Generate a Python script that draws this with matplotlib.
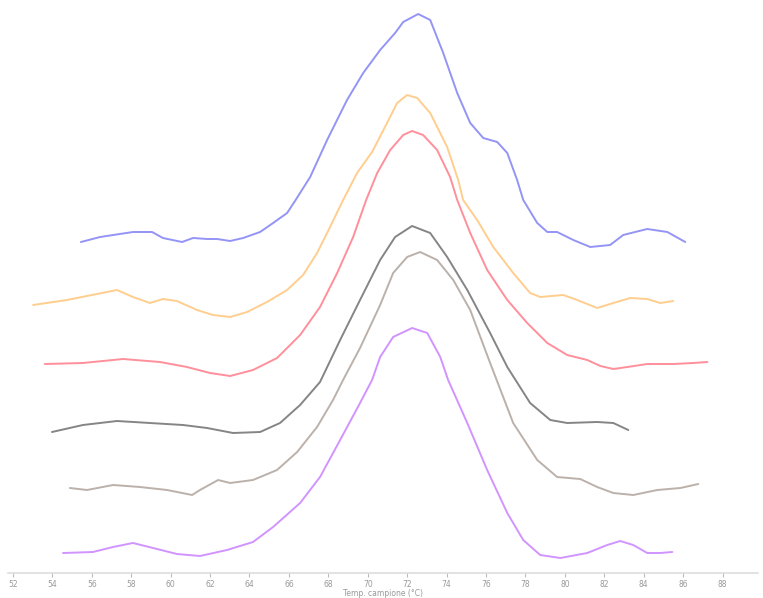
import matplotlib
matplotlib.use("Agg")
import matplotlib.pyplot as plt

# Temperatura (°C) e intensità (u.a., curve già traslate in verticale)
blue_t = [55.45, 56.42, 58.09, 59.06, 59.61, 60.58, 61.14, 61.85, 62.36, 63.02, 63.68,
          64.54, 65.20, 65.91, 66.31, 67.08, 67.94, 68.95, 69.77, 70.63, 71.39, 71.80,
          72.56, 73.17, 73.83, 74.54, 75.20, 75.86, 76.57, 77.08, 77.58, 77.89, 78.60,
          79.11, 79.61, 80.43, 81.29, 82.30, 82.96, 84.18, 85.20, 86.11]
blue_y = [3.31, 3.36, 3.41, 3.41, 3.35, 3.31, 3.35, 3.34, 3.34, 3.32, 3.35,
          3.41, 3.50, 3.60, 3.72, 3.96, 4.33, 4.73, 5.00, 5.23, 5.40, 5.51,
          5.59, 5.53, 5.20, 4.80, 4.50, 4.35, 4.31, 4.20, 3.93, 3.73, 3.50,
          3.41, 3.41, 3.33, 3.26, 3.28, 3.38, 3.44, 3.41, 3.31]

orange_t = [53.02, 54.74, 56.26, 57.28, 58.09, 58.95, 59.61, 60.32, 61.34, 62.15, 63.02,
            63.88, 64.89, 65.91, 66.72, 67.43, 68.09, 68.70, 69.46, 70.22, 70.98, 71.49,
            72.00, 72.51, 73.17, 74.03, 74.59, 74.84, 75.55, 76.37, 77.38, 78.24, 78.75,
            79.92, 80.63, 81.64, 82.46, 83.32, 84.18, 84.84, 85.50]
orange_y = [2.68, 2.73, 2.79, 2.83, 2.76, 2.70, 2.74, 2.72, 2.63, 2.58, 2.56,
            2.61, 2.71, 2.83, 2.98, 3.20, 3.46, 3.71, 4.00, 4.21, 4.50, 4.70,
            4.78, 4.75, 4.60, 4.26, 3.93, 3.73, 3.53, 3.26, 3.00, 2.80, 2.76,
            2.78, 2.73, 2.65, 2.70, 2.75, 2.74, 2.70, 2.72]

red_t = [53.62, 55.55, 57.58, 59.46, 60.83, 62.00, 63.02, 64.18, 65.40, 66.57, 67.58,
         68.45, 69.26, 69.92, 70.48, 71.14, 71.80, 72.25, 72.81, 73.52, 74.18, 74.54,
         75.20, 76.06, 77.08, 78.09, 79.11, 80.12, 81.14, 81.80, 82.46, 83.17, 84.18,
         85.50, 86.52, 87.23]
red_y = [2.09, 2.10, 2.14, 2.11, 2.06, 2.00, 1.97, 2.03, 2.15, 2.38, 2.66,
         3.00, 3.36, 3.73, 4.00, 4.23, 4.38, 4.42, 4.38, 4.23, 3.96, 3.73,
         3.40, 3.03, 2.73, 2.50, 2.30, 2.18, 2.13, 2.07, 2.04, 2.06, 2.09,
         2.09, 2.10, 2.11]

gray_t = [53.98, 55.55, 57.28, 58.95, 60.63, 61.85, 63.17, 64.54, 65.55, 66.57, 67.58,
          68.60, 69.61, 70.63, 71.39, 72.25, 73.17, 74.03, 75.05, 76.21, 77.08, 78.24,
          79.26, 80.12, 81.64, 82.46, 83.22]
gray_y = [1.41, 1.48, 1.52, 1.50, 1.48, 1.45, 1.40, 1.41, 1.50, 1.68, 1.91,
          2.33, 2.73, 3.13, 3.36, 3.47, 3.40, 3.16, 2.83, 2.40, 2.06, 1.70,
          1.53, 1.50, 1.51, 1.50, 1.43]

taupe_t = [54.89, 55.76, 57.08, 58.45, 59.82, 61.09, 61.49, 62.41, 63.02, 64.18, 65.40,
           66.42, 67.43, 68.24, 68.75, 69.61, 70.63, 71.29, 72.00, 72.66, 73.52, 74.34,
           75.20, 76.21, 77.38, 78.60, 79.61, 80.78, 81.64, 82.46, 83.47, 84.69, 85.86,
           86.77]
taupe_y = [0.85, 0.83, 0.88, 0.86, 0.83, 0.78, 0.83, 0.93, 0.90, 0.93, 1.03,
           1.21, 1.46, 1.73, 1.93, 2.25, 2.68, 3.00, 3.16, 3.21, 3.13, 2.93,
           2.63, 2.10, 1.50, 1.13, 0.96, 0.94, 0.86, 0.80, 0.78, 0.83, 0.85,
           0.89]

violet_t = [54.54, 56.06, 57.08, 58.09, 59.11, 60.32, 61.49, 62.86, 64.18, 65.20, 66.57,
            67.58, 68.60, 69.61, 70.22, 70.63, 71.29, 72.25, 73.02, 73.68, 74.08, 75.05,
            76.06, 77.08, 77.89, 78.75, 79.77, 81.14, 82.15, 82.81, 83.47, 84.18, 84.84,
            85.45]
violet_y = [0.20, 0.21, 0.26, 0.30, 0.25, 0.19, 0.17, 0.23, 0.31, 0.46, 0.70,
            0.96, 1.33, 1.70, 1.93, 2.16, 2.36, 2.45, 2.40, 2.16, 1.93, 1.50,
            1.03, 0.60, 0.33, 0.18, 0.15, 0.20, 0.28, 0.32, 0.28, 0.20, 0.20,
            0.21]

tick_vals = list(range(52, 90, 2))

fig = plt.figure(figsize=(7.63, 5.98), dpi=100)
ax = fig.add_axes([8 / 763, 25 / 598, 750 / 763, 573 / 598])

series = [
    (blue_t, blue_y, '#9494f6'),
    (orange_t, orange_y, '#ffce8e'),
    (red_t, red_y, '#ff8f9a'),
    (gray_t, gray_y, '#858585'),
    (taupe_t, taupe_y, '#bbb1aa'),
    (violet_t, violet_y, '#d194ff'),
]
for t, y, c in series:
    ax.plot(t, y, color=c, lw=1.4, solid_capstyle='round', solid_joinstyle='round')

ax.set_xlim(51.75, 89.8)
ax.set_ylim(0, 5.73)
ax.set_xticks(tick_vals)
ax.set_xticklabels([str(v) for v in tick_vals])
ax.tick_params(axis='x', colors='#bbbbbb', labelcolor='#999999', labelsize=5.5,
               length=3, width=0.8, pad=2)
ax.set_yticks([])
for s in ['left', 'right', 'top']:
    ax.spines[s].set_visible(False)
ax.spines['bottom'].set_color('#dddddd')
ax.spines['bottom'].set_linewidth(1.2)
ax.set_xlabel('Temp. campione (°C)', fontsize=5.5, color='#999999', labelpad=0)

fig.savefig('out.png', dpi=100)
